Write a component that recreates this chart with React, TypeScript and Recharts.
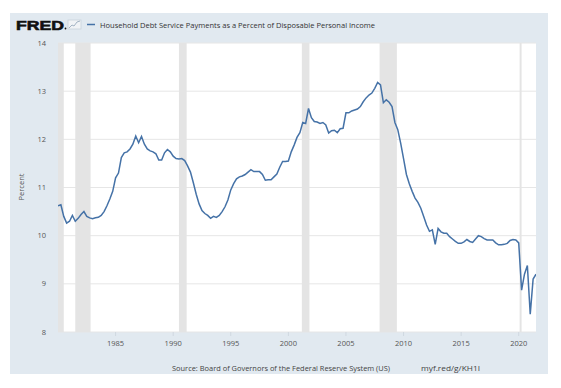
import { LineChart, Line, XAxis, YAxis, CartesianGrid, ReferenceArea } from "recharts";

// quarterly values, first quarter of each decade block starts at Q1
const dsr1980s = [
  10.62, 10.64, 10.4, 10.26, 10.3, 10.42, 10.3, 10.36, 10.44, 10.5, 10.4, 10.37,
  10.35, 10.37, 10.38, 10.42, 10.5, 10.62, 10.76, 10.92, 11.2, 11.3, 11.62, 11.72,
  11.74, 11.8, 11.9, 12.07, 11.93, 12.06, 11.9, 11.8, 11.76, 11.74, 11.7, 11.57,
  11.57, 11.72, 11.79, 11.74,
];
const dsr1990s = [
  11.65, 11.6, 11.59, 11.6, 11.56, 11.45, 11.32, 11.1, 10.86, 10.66, 10.52, 10.46,
  10.42, 10.36, 10.4, 10.38, 10.42, 10.5, 10.6, 10.74, 10.95, 11.08, 11.18, 11.22,
  11.24, 11.27, 11.32, 11.37, 11.33, 11.33, 11.33, 11.27, 11.15, 11.16, 11.16, 11.22,
  11.28, 11.42, 11.54, 11.54,
];
const dsr2000s = [
  11.55, 11.74, 11.88, 12.04, 12.14, 12.35, 12.33, 12.64, 12.45, 12.37, 12.36, 12.33,
  12.35, 12.3, 12.13, 12.18, 12.19, 12.14, 12.22, 12.23, 12.55, 12.55, 12.59, 12.61,
  12.63, 12.68, 12.78, 12.86, 12.92, 12.96, 13.06, 13.18, 13.13, 12.76, 12.82, 12.77,
  12.68, 12.35, 12.2, 11.92,
];
const dsr2010s = [
  11.6, 11.27, 11.08, 10.92, 10.78, 10.69, 10.57, 10.4, 10.22, 10.09, 10.12, 9.82,
  10.15, 10.08, 10.05, 10.05, 9.98, 9.93, 9.88, 9.84, 9.84, 9.87, 9.92, 9.88,
  9.86, 9.93, 10.0, 9.98, 9.94, 9.91, 9.91, 9.91, 9.85, 9.81, 9.81, 9.82,
  9.84, 9.9, 9.92, 9.91,
];
const dsr2020s = [9.85, 8.87, 9.2, 9.38, 8.37, 9.1, 9.2];

const firstYear = 1980;
const lastObs = 2021.5;

const recessions = [
  [1980.0, 1980.5],
  [1981.5, 1982.83],
  [1990.5, 1991.17],
  [2001.17, 2001.83],
  [2007.92, 2009.42],
  [2020.08, 2020.25],
];

const xTicks = [1985, 1990, 1995, 2000, 2005, 2010, 2015, 2020];
const yTicks = [8, 9, 10, 11, 12, 13, 14];

const title = "Household Debt Service Payments as a Percent of Disposable Personal Income";
const source = "Source: Board of Governors of the Federal Reserve System (US)";
const shortUrl = "myf.red/g/KH1I";

const values = [...dsr1980s, ...dsr1990s, ...dsr2000s, ...dsr2010s, ...dsr2020s];
const data = values.map((v, i) => ({ t: firstYear + i / 4, v }));

const font = "'Open Sans', sans-serif";
const tickStyle = { fontSize: 7.5, fill: "#555", fontFamily: font };

export default function App() {
  return (
    <div style={{ position: "absolute", left: 0, top: 0, width: 561, height: 388, background: "#fff" }}>
      <div
        style={{ position: "absolute", left: 10, top: 13, width: 538, height: 361, background: "#e1e9f0" }}
      />
      <div style={{ position: "absolute", left: 0, top: 0 }}>
        <LineChart width={561} height={388} data={data} margin={{ top: 43, right: 25, bottom: 32, left: 18 }}>
          <CartesianGrid vertical={false} stroke="#e6e6e6" fill="#ffffff" fillOpacity={1} />
          {recessions.map(([a, b]) => (
            <ReferenceArea key={a} x1={a} x2={b} fill="#e4e4e4" fillOpacity={1} stroke="none" ifOverflow="hidden" />
          ))}
          <XAxis
            dataKey="t"
            type="number"
            domain={[firstYear, lastObs]}
            ticks={xTicks}
            tick={tickStyle}
            axisLine={false}
            tickLine={{ stroke: "#d0d8e0" }}
            tickSize={4}
            tickMargin={5}
            height={24}
            allowDataOverflow
          />
          <YAxis
            domain={[8, 14]}
            ticks={yTicks}
            tick={tickStyle}
            axisLine={false}
            tickLine={false}
            tickSize={0}
            tickMargin={12}
            width={40}
          />
          <Line
            dataKey="v"
            type="linear"
            stroke="#4572a7"
            strokeWidth={1.5}
            dot={false}
            isAnimationActive={false}
          />
        </LineChart>
      </div>
      <svg
        width={561}
        height={388}
        style={{ position: "absolute", left: 0, top: 0, pointerEvents: "none" }}
      >
        <text
          x={16}
          y={29.5}
          fontFamily="'Liberation Sans', Arial, sans-serif"
          fontWeight={900}
          fontSize={13.5}
          fill="#111"
          textLength={48}
          lengthAdjust="spacingAndGlyphs"
          stroke="#111"
          strokeWidth={0.6}
        >
          FRED
        </text>
        <circle cx={65.5} cy={28.5} r={0.9} fill="#111" />
        <g stroke="#a8b7c7" fill="none" strokeWidth={0.8}>
          <rect x={68} y={20} width={13} height={9} fill="#f0f3f6" stroke="#c8d2dc" />
          <polyline points="69,28 72,25 74,26 77,22 80,21" stroke="#8fa3b8" />
        </g>
        <line x1={87} y1={24.5} x2={95} y2={24.5} stroke="#4572a7" strokeWidth={1.5} />
        <text
          x={100}
          y={27.5}
          fontFamily={font}
          fontSize={8}
          fill="#333"
          textLength={275}
          lengthAdjust="spacingAndGlyphs"
        >
          {title}
        </text>
        <text x={24} y={187} transform="rotate(-90 24 187)" textAnchor="middle" fontFamily={font} fontSize={7.5} fill="#555">
          Percent
        </text>
        <text
          x={172}
          y={370.5}
          fontFamily={font}
          fontSize={7.5}
          fill="#444"
          textLength={218}
          lengthAdjust="spacingAndGlyphs"
        >
          {source}
        </text>
        <text
          x={421}
          y={370.5}
          fontFamily={font}
          fontSize={7.5}
          fill="#444"
          textLength={59}
          lengthAdjust="spacingAndGlyphs"
        >
          {shortUrl}
        </text>
      </svg>
    </div>
  );
}
